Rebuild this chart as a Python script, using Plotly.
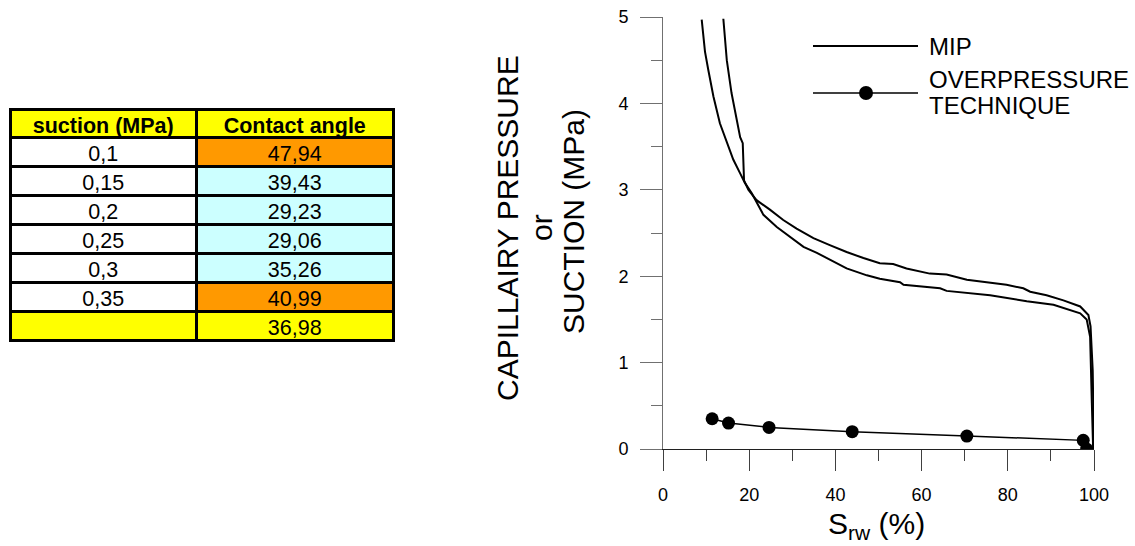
import plotly.graph_objects as go

# ---------------- data ----------------
table_suction = [0.1, 0.15, 0.2, 0.25, 0.3, 0.35]
table_angle = [47.94, 39.43, 29.23, 29.06, 35.26, 40.99]
angle_mean = 36.98
angle_flag = [True, False, False, False, False, True]   # highlighted (orange) rows
table_header = ["suction (MPa)", "Contact angle"]

mip1_x = [8.98, 9.74, 10.5, 11.7, 13.2, 14.8, 16.3, 17.9, 19.0, 20.6, 23.3, 26.4, 29.5,
          32.6, 35.7, 38.7, 42.6, 47.3, 50.3, 55.0, 55.8, 64.3, 65.8, 75.9, 84.4, 90.6,
          93.7, 96.8, 98.3, 99.1, 99.5, 99.8]
mip1_y = [4.97, 4.60, 4.39, 4.08, 3.77, 3.54, 3.35, 3.19, 3.08, 2.96, 2.71, 2.57, 2.46,
          2.34, 2.27, 2.19, 2.09, 2.01, 1.97, 1.93, 1.90, 1.86, 1.83, 1.78, 1.71, 1.67,
          1.62, 1.57, 1.50, 1.30, 0.53, 0.0]

mip2_x = [14.0, 14.8, 15.9, 17.1, 17.9, 18.5, 18.8, 19.8, 21.7, 24.8, 27.9, 31.0, 34.9,
          38.7, 42.6, 46.5, 50.3, 53.4, 56.5, 61.9, 65.8, 70.5, 75.1, 79.7, 83.6, 85.2,
          89.0, 92.9, 96.8, 98.7, 99.2, 99.7, 100.0]
mip2_y = [4.98, 4.50, 4.12, 3.81, 3.61, 3.54, 3.11, 3.00, 2.88, 2.77, 2.65, 2.55, 2.44,
          2.36, 2.28, 2.21, 2.15, 2.14, 2.09, 2.03, 2.02, 1.96, 1.93, 1.90, 1.86, 1.82,
          1.78, 1.72, 1.65, 1.55, 1.42, 0.91, 0.0]

op_x = [11.4, 15.2, 24.6, 43.9, 70.5, 97.5, 98.3]
op_y = [0.35, 0.30, 0.25, 0.20, 0.15, 0.10, 0.0]

x_ticks = [0, 20, 40, 60, 80, 100]
y_ticks = [0, 1, 2, 3, 4, 5]

# ---------------- layout helpers ----------------
W, H = 1135, 546
FONT = "Liberation Sans, Arial, sans-serif"


def fx(p):
    return p / W


def fy(p):
    return 1 - p / H


ORANGE = "#FF9900"
CYAN = "#CCFFFF"
YELLOW = "#FFFF00"
WHITE = "#FFFFFF"

col1 = [f"{v:g}".replace(".", ",") for v in table_suction] + [""]
col2 = [f"{v:.2f}".replace(".", ",") for v in table_angle] + [f"{angle_mean:.2f}".replace(".", ",")]
fill1 = [WHITE] * len(table_suction) + [YELLOW]
fill2 = [ORANGE if f else CYAN for f in angle_flag] + [YELLOW]
# non-breaking spaces keep the header row at its set height
header_txt = [h.replace(" ", "\u00a0") for h in table_header]

fig = go.Figure()

fig.add_trace(go.Table(
    domain=dict(x=[fx(10), fx(393)], y=[fy(345), fy(109)]),
    columnwidth=[186, 196],
    header=dict(values=header_txt,
                fill_color=YELLOW, line=dict(color="black", width=3),
                align="center", height=28,
                font=dict(family=FONT, size=21.5, color="black", weight="bold")),
    cells=dict(values=[col1, col2], fill_color=[fill1, fill2],
               line=dict(color="black", width=3), align="center", height=29,
               font=dict(family=FONT, size=21.5, color="black")),
))

fig.add_trace(go.Scatter(x=mip1_x, y=mip1_y, mode="lines",
                         line=dict(color="black", width=2), showlegend=False))
fig.add_trace(go.Scatter(x=mip2_x, y=mip2_y, mode="lines",
                         line=dict(color="black", width=2), showlegend=False))
fig.add_trace(go.Scatter(x=op_x, y=op_y, mode="lines+markers",
                         line=dict(color="black", width=1.5),
                         marker=dict(color="black", size=13), showlegend=False))

fig.update_xaxes(domain=[fx(663), fx(1094)], range=[0, 100], tickvals=x_ticks,
                 ticks="outside", ticklen=21, tickwidth=1, tickcolor="#404040",
                 showline=True, linecolor="#202020", linewidth=1,
                 showgrid=False, zeroline=False, ticklabelstandoff=8,
                 tickfont=dict(family=FONT, size=18, color="black"),
                 minor=dict(dtick=10, tick0=0, ticks="outside", ticklen=11,
                            tickcolor="#404040", showgrid=False),
                 automargin=False)
fig.update_yaxes(domain=[fy(449), fy(17)], range=[0, 5], tickvals=y_ticks,
                 ticks="outside", ticklen=22, tickwidth=1, tickcolor="#707070",
                 showline=True, linecolor="#707070", linewidth=1,
                 showgrid=False, zeroline=False, ticklabelstandoff=8,
                 tickfont=dict(family=FONT, size=18, color="black"),
                 minor=dict(dtick=0.5, tick0=0, ticks="outside", ticklen=11,
                            tickcolor="#707070", showgrid=False),
                 automargin=False)

annotations = [
    dict(text="S<sub>rw</sub> (%)", x=fx(876), y=fy(525), size=30),
    dict(text="CAPILLAIRY PRESSURE", x=fx(507), y=fy(228), textangle=-90),
    dict(text="or", x=fx(541), y=fy(228), textangle=-90),
    dict(text="SUCTION (MPa)", x=fx(573), y=fy(222), textangle=-90),
    dict(text="MIP", x=fx(927), y=fy(46), xanchor="left", size=24),
    dict(text="OVERPRESSURE", x=fx(927), y=fy(79), xanchor="left", size=24),
    dict(text="TECHNIQUE", x=fx(927), y=fy(106), xanchor="left", size=24),
]
ann_out = []
for a in annotations:
    a = dict(a)
    size = a.pop("size", 30)
    a.setdefault("xref", "paper")
    a.setdefault("yref", "paper")
    a.setdefault("showarrow", False)
    a.setdefault("xanchor", "center")
    a.setdefault("yanchor", "middle")
    a.setdefault("font", dict(family=FONT, size=size, color="black"))
    ann_out.append(a)

shapes = [
    dict(type="line", xref="paper", yref="paper", x0=fx(813), x1=fx(918), y0=fy(46), y1=fy(46),
         line=dict(color="black", width=2)),
    dict(type="line", xref="paper", yref="paper", x0=fx(813), x1=fx(918), y0=fy(93), y1=fy(93),
         line=dict(color="black", width=1.5)),
    dict(type="circle", xref="paper", yref="paper", x0=fx(859), x1=fx(873),
         y0=fy(100), y1=fy(86), fillcolor="black", line=dict(color="black", width=0)),
]

fig.update_layout(width=W, height=H, margin=dict(l=0, r=0, t=0, b=0),
                  paper_bgcolor="white", plot_bgcolor="white",
                  showlegend=False, annotations=ann_out, shapes=shapes,
                  font=dict(family=FONT, color="black"))

fig.write_html("out.html")
